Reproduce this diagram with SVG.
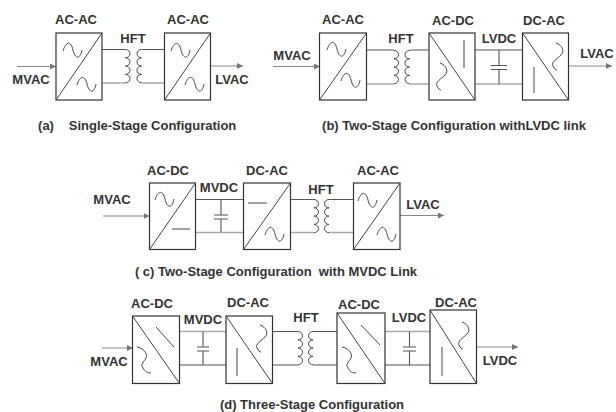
<svg xmlns="http://www.w3.org/2000/svg" width="616" height="412" viewBox="0 0 616 412">
<style>
text{font-family:"Liberation Sans",Arial,sans-serif;font-weight:bold;font-size:13px;fill:#333;text-anchor:middle}
.cap{font-size:13px}
.box{fill:#fff;stroke:#333;stroke-width:1.2}
.s{fill:none;stroke:#444;stroke-width:1}
.w{fill:none;stroke:#555;stroke-width:1.1}
.g{fill:none;stroke:#aaa;stroke-width:1.6}
.a{fill:none;stroke:#888;stroke-width:1;marker-end:url(#ah)}
</style>
<defs>
<marker id="ah" markerWidth="7" markerHeight="6" refX="6" refY="3" orient="auto" markerUnits="userSpaceOnUse"><path d="M0,0L6,3L0,6z" fill="#777"/></marker>
<path id="hw" class="s" d="M0,0c3,-10 8,-10 10,-1c2,9 7,10 9,0"/>
<path id="vr" class="s" d="M4,0C10,2 13,8 9,12C5,16 -1,19 1,23C2,26 4,27 5,27"/>
<path id="vl" class="s" d="M0,0C6,1 11,6 9,11C7,15 3,17 6,21C8,25 11,26 14,26"/>
<path id="pc" class="s" d="M0,0a4.500,4.150 0 0 1 0,8.300a4.500,4.150 0 0 1 0,8.300a4.500,4.150 0 0 1 0,8.300a4.500,4.150 0 0 1 0,8.300"/>
<path id="sc" class="s" d="M0,0a4.500,4.150 0 0 0 0,8.300a4.500,4.150 0 0 0 0,8.300a4.500,4.150 0 0 0 0,8.300a4.500,4.150 0 0 0 0,8.300"/>
</defs>
<g id="connectors">
<path class="a" d="M17,66.500H56"/><path class="a" d="M211,66H243"/>
<path class="w" d="M102,49.500H125.500M164.500,49.500H141.500"/>
<path class="g" d="M102,83H125.500M164.500,83H141.500"/>
<use href="#pc" x="125.500" y="49.500"/><use href="#sc" x="141.500" y="49.500"/>

<path class="a" d="M273,66.500H320"/><path class="a" d="M568,66H612"/>
<path class="w" d="M367,50H394M409.500,50H429M475,50H522"/>
<path class="g" d="M367,84H394M409.500,84H429M475,84H522"/>
<use href="#pc" x="394" y="50.500"/><use href="#sc" x="409.500" y="50.500"/>
<path class="w" d="M499,50V65.500M499,69.500V84M491,65.500H507M491,69.500H507"/>

<path class="a" d="M103,216H149.500"/><path class="a" d="M400,215.500H444"/>
<path class="w" d="M196,199.500H243M291,199.500H314M329,199.500H353"/>
<path class="g" d="M196,232.500H243M291,232.500H314M329,232.500H353"/>
<use href="#pc" x="314" y="199.500"/><use href="#sc" x="329" y="199.500"/>
<path class="w" d="M221,199.500V215M221,219V232.500M214,215H228M214,219H228"/>

<path class="a" d="M102,348H133"/><path class="a" d="M477,347H518"/>
<path class="g" d="M179.500,331.500H226M385,331.500H430"/>
<path class="w" d="M179.500,365H226M272.500,331.500H298M272.500,365H298M313,331.500H337M313,365H337M385,365H430"/>
<use href="#pc" x="298" y="331.500"/><use href="#sc" x="313" y="331.500"/>
<path class="w" d="M203,331.500V347M203,351V365M197,347H209M197,351H209"/>
<path class="w" d="M409.500,331.500V347M409.500,351V365M403,347H416M403,351H416"/>
</g>

<g id="a1"><rect class="box" x="56" y="33" width="46" height="67"/><path class="s" d="M56,100L102,33"/><use href="#hw" x="63" y="51"/><use href="#hw" x="77" y="85"/></g>
<g id="a2"><rect class="box" x="164.500" y="33" width="46" height="67"/><path class="s" d="M164.500,100L210.500,33"/><use href="#hw" x="171" y="51"/><use href="#hw" x="185" y="85"/></g>

<g id="b1"><rect class="box" x="319.500" y="33" width="47" height="67"/><path class="s" d="M319.500,100L366.500,33"/><use href="#hw" x="327" y="50"/><use href="#hw" x="341" y="81"/></g>
<g id="b2"><rect class="box" x="429" y="33" width="46" height="67"/><path class="s" d="M429,33L475,100"/><path class="s" d="M464,40V68"/><use href="#vr" x="436" y="63"/></g>
<g id="b3"><rect class="box" x="522.500" y="33" width="46" height="67"/><path class="s" d="M522.500,33L568.500,100"/><path class="s" d="M534,67V93"/><use href="#vr" x="552" y="43"/></g>

<g id="c1"><rect class="box" x="149.500" y="183" width="46" height="66.500"/><path class="s" d="M149.500,249.500L195.500,183"/><use href="#hw" x="155" y="200"/><path class="s" d="M172,229H190"/></g>
<g id="c2"><rect class="box" x="243.500" y="183" width="47" height="66.500"/><path class="s" d="M243.500,249.500L290.500,183"/><path class="s" d="M248,203H267"/><use href="#hw" x="265" y="235"/></g>
<g id="c3"><rect class="box" x="353.500" y="183" width="46.500" height="66.500"/><path class="s" d="M353.500,249.500L400,183"/><use href="#hw" x="358" y="201"/><use href="#hw" x="377" y="235"/></g>

<g id="d1"><rect class="box" x="132.500" y="316" width="47" height="67.500"/><path class="s" d="M132.500,316L179.500,383.500"/><path class="s" d="M156,327L174,347"/><use href="#vl" x="137" y="347"/></g>
<g id="d2"><rect class="box" x="226" y="316" width="46.500" height="67.500"/><path class="s" d="M226,316L272.500,383.500"/><path class="s" d="M237,348V376"/><use href="#vr" x="256" y="325"/></g>
<g id="d3"><rect class="box" x="337" y="313" width="48" height="70.500"/><path class="s" d="M337,313L385,383.500"/><path class="s" d="M361,325L380,345"/><use href="#vl" x="342" y="347"/></g>
<g id="d4"><rect class="box" x="430" y="310" width="46.500" height="73.500"/><path class="s" d="M430,310L476.500,383.500"/><path class="s" d="M442,347V376"/><use href="#vr" x="458" y="322"/></g>

<g id="labels">
<text x="76" y="24">AC-AC</text><text x="188" y="24">AC-AC</text><text x="133" y="43">HFT</text><text x="31" y="84">MVAC</text><text x="232" y="84">LVAC</text>
<text class="cap" x="46" y="130">(a)</text><text class="cap" x="152.500" y="130">Single-Stage Configuration</text>
<text x="343" y="24">AC-AC</text><text x="453" y="25">AC-DC</text><text x="544" y="25">DC-AC</text><text x="401" y="43">HFT</text><text x="499" y="43">LVDC</text><text x="292" y="60">MVAC</text><text x="597" y="58">LVAC</text>
<text class="cap" x="454" y="130">(b) Two-Stage Configuration withLVDC link</text>
<text x="168" y="175">AC-DC</text><text x="267" y="175">DC-AC</text><text x="378" y="175">AC-AC</text><text x="219" y="192">MVDC</text><text x="321" y="194">HFT</text><text x="112" y="204">MVAC</text><text x="423" y="209">LVAC</text>
<text class="cap" x="276" y="276" xml:space="preserve">( c) Two-Stage Configuration  with MVDC Link</text>
<text x="152" y="308">AC-DC</text><text x="248" y="307">DC-AC</text><text x="359" y="309">AC-DC</text><text x="456" y="307">DC-AC</text><text x="203" y="324">MVDC</text><text x="306" y="322">HFT</text><text x="409" y="322">LVDC</text><text x="109" y="366">MVAC</text><text x="500" y="365">LVDC</text>
<text class="cap" x="312" y="409">(d) Three-Stage Configuration</text>
</g>
</svg>
